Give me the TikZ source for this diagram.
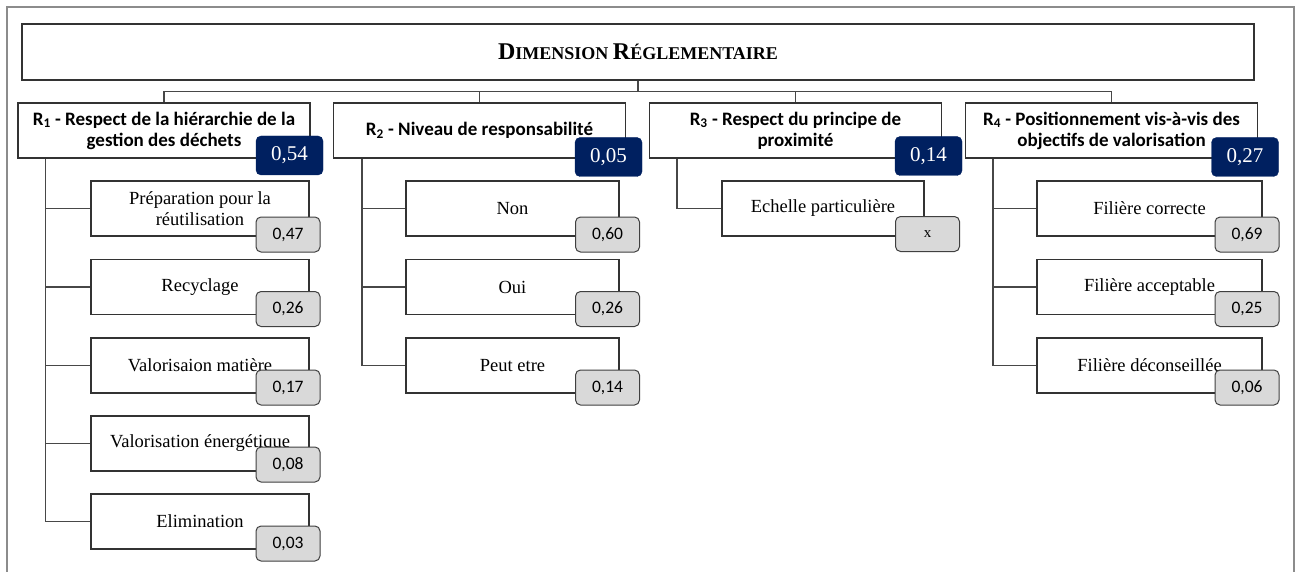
\documentclass[tikz,border=0pt]{standalone}
\usepackage{fontspec}
\setmainfont{Liberation Serif}
\newfontfamily\calib{Carlito}
\definecolor{navyc}{RGB}{0,32,96}
\definecolor{badgegrey}{RGB}{217,217,217}
\begin{document}
\begin{tikzpicture}[x=1pt,y=-1pt,
 box/.style={draw=black!80, line width=1.2pt, fill=white, inner sep=0pt, align=center},
 hdr/.style={box, minimum width=292pt, minimum height=55pt, font=\calib\bfseries\fontsize{19}{21}\selectfont},
 leaf/.style={box, minimum height=55pt, font=\fontsize{18.5}{21}\selectfont},
 navy/.style={draw=navyc, fill=navyc, rounded corners=5pt, minimum width=67pt, minimum height=39pt, text=white, font=\fontsize{21}{24}\selectfont, inner sep=0pt},
 grey/.style={draw=black!75, line width=1pt, fill=badgegrey, rounded corners=5pt, minimum width=64pt, minimum height=35pt, font=\calib\fontsize{17.5}{20}\selectfont, inner sep=0pt},
 conn/.style={draw=black!72, line width=1.4pt},
 frame/.style={draw=black!45, line width=2pt}]
\useasboundingbox (0,0) rectangle (1295,572);
\fill[white] (0,0) rectangle (1295,572);
\draw[frame] (7,572) -- (7,7) -- (1294,7) -- (1294,572);

% top
\node[box, minimum width=1232pt, minimum height=56pt, font=\bfseries] (top) at (638,52)
 {{\fontsize{24}{28}\selectfont D}{\fontsize{18}{22}\selectfont IMENSION }{\fontsize{24}{28}\selectfont R}{\fontsize{18}{22}\selectfont ÉGLEMENTAIRE}};

% headers
\node[hdr] (r1) at (164,130.5) {R\textsubscript{1} - Respect de la hiérarchie de la\\gestion des déchets};
\node[hdr] (r2) at (479.5,130.5) {R\textsubscript{2} - Niveau de responsabilité};
\node[hdr] (r3) at (795.5,130.5) {R\textsubscript{3} - Respect du principe de\\proximité};
\node[hdr] (r4) at (1111.5,130.5) {R\textsubscript{4} - Positionnement vis-à-vis des\\objectifs de valorisation};

\foreach \n in {r1,r2,r3,r4}{\draw[conn] (top.south) -- ++(0,11) -| (\n.north);}

% R1 leaves
\node[leaf, minimum width=218pt] (a1) at (200,208.5) {Préparation pour la\\réutilisation};
\node[leaf, minimum width=218pt] (a2) at (200,287) {Recyclage};
\node[leaf, minimum width=218pt] (a3) at (200,365.5) {Valorisaion matière};
\node[leaf, minimum width=218pt] (a4) at (200,443.5) {Valorisation énergétique};
\node[leaf, minimum width=218pt] (a5) at (200,521.5) {Elimination};
% R2 leaves
\node[leaf, minimum width=213pt] (b1) at (512.5,208.5) {Non};
\node[leaf, minimum width=213pt] (b2) at (512.5,287) {Oui};
\node[leaf, minimum width=213pt] (b3) at (512.5,365.5) {Peut etre};
% R3 leaf
\node[leaf, minimum width=202pt] (c1) at (823,208.5) {Echelle particulière};
% R4 leaves
\node[leaf, minimum width=225pt] (d1) at (1149.5,208.5) {Filière correcte};
\node[leaf, minimum width=225pt] (d2) at (1149.5,287) {Filière acceptable};
\node[leaf, minimum width=225pt] (d3) at (1149.5,365.5) {Filière déconseillée};

\foreach \n in {a1,a2,a3,a4,a5}{\draw[conn] ([xshift=28pt]r1.south west) |- (\n.west);}
\foreach \n in {b1,b2,b3}{\draw[conn] ([xshift=29pt]r2.south west) |- (\n.west);}
\draw[conn] ([xshift=28pt]r3.south west) |- (c1.west);
\foreach \n in {d1,d2,d3}{\draw[conn] ([xshift=28pt]r4.south west) |- (\n.west);}

% navy badges
\node[navy] (w1) at (289.5,155.5) {0,54};
\node[navy] (w2) at (608.5,157) {0,05};
\node[navy] (w3) at (928.5,156) {0,14};
\node[navy] (w4) at (1245,157) {0,27};

% grey badges
\node[grey] (ga1) at (288,234.5) {0,47};
\node[grey] (ga2) at (288,309) {0,26};
\node[grey] (ga3) at (288,387.5) {0,17};
\node[grey] (ga4) at (288,464.5) {0,08};
\node[grey] (ga5) at (288,543.5) {0,03};
\node[grey] (gb1) at (607.5,234.5) {0,60};
\node[grey] (gb2) at (607.5,309) {0,26};
\node[grey] (gb3) at (607.5,387.5) {0,14};
\node[grey, font=\fontsize{15}{17}\selectfont] (gc1) at (927.5,234) {x};
\node[grey] (gd1) at (1247,234.5) {0,69};
\node[grey] (gd2) at (1247,309) {0,25};
\node[grey] (gd3) at (1247,387.5) {0,06};
\end{tikzpicture}
\end{document}
